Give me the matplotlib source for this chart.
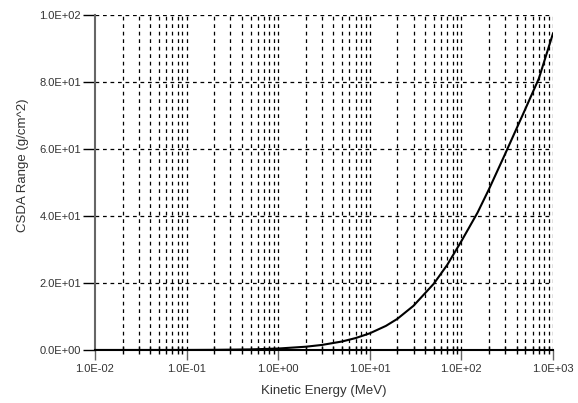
import matplotlib
matplotlib.use("Agg")
import matplotlib.pyplot as plt
from matplotlib.ticker import FixedLocator, NullFormatter

plt.rcParams['font.family'] = ['Liberation Sans', 'DejaVu Sans']

# kinetic energy (MeV) and CSDA range (g/cm^2)
energy = [0.01, 0.02, 0.05, 0.1, 0.2, 0.5, 1, 2, 3, 5, 7, 10, 15, 20, 30,
          50, 70, 100, 150, 200, 300, 500, 700, 1000]
csda = [0.00025, 0.00086, 0.0043, 0.0143, 0.0449, 0.177, 0.437, 0.979, 1.51,
        2.55, 3.56, 4.98, 7.2, 9.3, 13.2, 19.8, 25.4, 32.5, 41.0, 48.0, 58.5,
        72.0, 81.0, 94.5]

x_major = [1e-2, 1e-1, 1e0, 1e1, 1e2, 1e3]
x_labels = ['1.0E-02', '1.0E-01', '1.0E+00', '1.0E+01', '1.0E+02', '1.0E+03']
y_major = [0, 20, 40, 60, 80, 100]
y_labels = ['0.0E+00', '2.0E+01', '4.0E+01', '6.0E+01', '8.0E+01', '1.0E+02']

fig = plt.figure(figsize=(5.78, 4.03), dpi=100)
ax = fig.add_axes([95 / 578, 53 / 403, 458 / 578, 335 / 403])

ax.plot(energy, csda, color='black', lw=1.5, zorder=5)

ax.set_xscale('log')
ax.set_xlim(1e-2, 1e3)
ax.set_ylim(0, 100)

minors = [m * 10.0 ** e for e in range(-2, 3) for m in range(2, 10)]
ax.xaxis.set_major_locator(FixedLocator(x_major))
ax.xaxis.set_minor_locator(FixedLocator(minors))
ax.set_xticklabels(x_labels)
ax.xaxis.set_minor_formatter(NullFormatter())
ax.set_yticks(y_major)
ax.set_yticklabels(y_labels)

# dashed grid
for v in x_major[1:] + minors:
    ax.axvline(v, color='black', ls=(0, (3, 3)), lw=0.9, zorder=1)
for v in y_major[1:]:
    ax.axhline(v, color='black', ls=(0, (3, 3)), lw=0.9, zorder=1)

for s in ['top', 'right']:
    ax.spines[s].set_visible(False)
ax.spines['left'].set_color('#666666')
ax.spines['left'].set_linewidth(1.5)
ax.spines['bottom'].set_color('black')
ax.spines['bottom'].set_linewidth(1.5)

ax.tick_params(axis='x', which='major', direction='out', length=7, width=1,
               color='#666666', labelsize=8, labelcolor='#333333', pad=3)
ax.tick_params(axis='x', which='minor', direction='inout', length=6, width=1,
               color='black')
ax.tick_params(axis='y', which='major', direction='out', length=9, width=1,
               color='black', labelsize=8, labelcolor='#333333', pad=1)

ax.set_xlabel('Kinetic Energy (MeV)', fontsize=9.5, color='#333333')
ax.xaxis.set_label_coords(0.5, -0.105)
ax.set_ylabel('CSDA Range (g/cm^2)', fontsize=9.5, color='#333333')
ax.yaxis.set_label_coords(-0.145, 0.55)

fig.savefig('out.png', dpi=100)
